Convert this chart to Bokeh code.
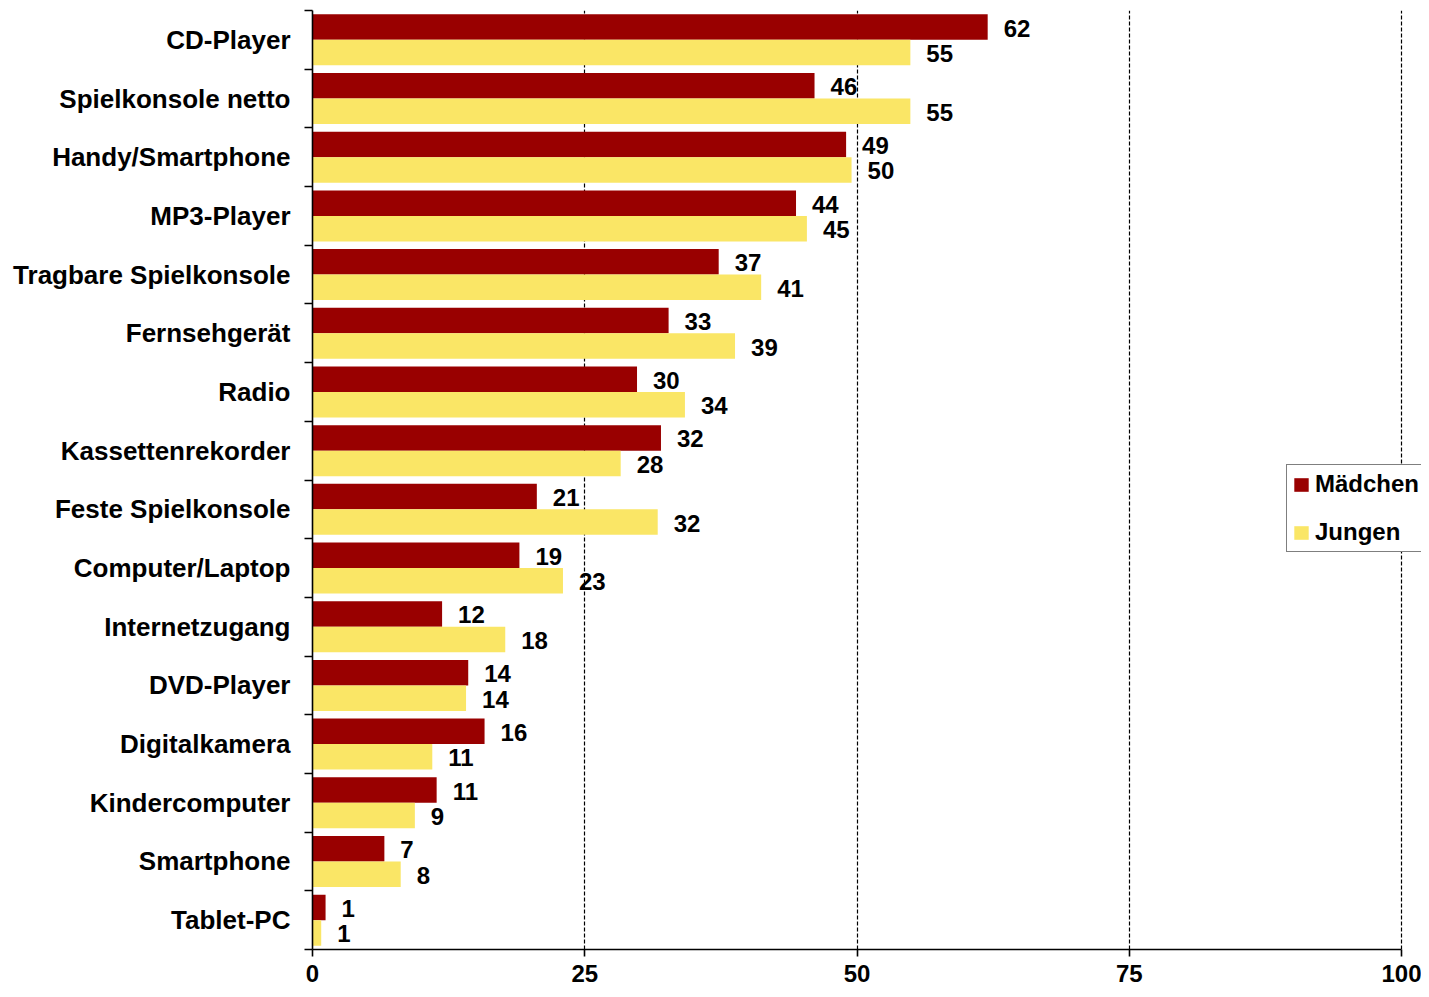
from bokeh.plotting import figure
from bokeh.models import (ColumnDataSource, Range1d, FixedTicker, Legend, LegendItem)
from bokeh.core.properties import value
from bokeh.embed import file_html
from bokeh.resources import INLINE

categories = ["CD-Player", "Spielkonsole netto", "Handy/Smartphone", "MP3-Player",
              "Tragbare Spielkonsole", "Fernsehgerät", "Radio", "Kassettenrekorder",
              "Feste Spielkonsole", "Computer/Laptop", "Internetzugang", "DVD-Player",
              "Digitalkamera", "Kindercomputer", "Smartphone", "Tablet-PC"]
maedchen = [62.0, 46.1, 49.0, 44.4, 37.3, 32.7, 29.8, 32.0, 20.6, 19.0, 11.9, 14.3, 15.8, 11.4, 6.6, 1.2]
jungen = [54.9, 54.9, 49.5, 45.4, 41.2, 38.8, 34.2, 28.3, 31.7, 23.0, 17.7, 14.1, 11.0, 9.4, 8.1, 0.8]
x_ticks = [0, 25, 50, 75, 100]
series_names = ["Mädchen", "Jungen"]

RED = "#990000"
YELLOW = "#FAE666"
FONT = "Liberation Sans"

W, H = 1421, 989
LEFT, TOP, BOTTOM = 312, 10, 40
PX_AT_100 = 1401  # pixel of value 100
x_end = 100.0 * (W - LEFT) / (PX_AT_100 - LEFT)

n = len(categories)
centers = [n - i - 0.5 for i in range(n)]
bh = 0.435
off = bh / 2

src_m = ColumnDataSource(dict(y=[c + off for c in centers], v=maedchen,
                              lab=[str(int(v + 0.5)) for v in maedchen]))
src_j = ColumnDataSource(dict(y=[c - off for c in centers], v=jungen,
                              lab=[str(int(v + 0.5)) for v in jungen]))

p = figure(width=W, height=H, output_backend="svg", toolbar_location=None,
           x_range=Range1d(0, x_end), y_range=Range1d(0, n),
           min_border_left=LEFT, min_border_right=0, min_border_top=TOP,
           min_border_bottom=BOTTOM)
p.outline_line_color = None
p.background_fill_color = "white"
p.border_fill_color = "white"

r_m = p.hbar(y="y", left=0, right="v", height=bh, source=src_m, fill_color=RED, line_color=None)
r_j = p.hbar(y="y", left=0, right="v", height=bh, source=src_j, fill_color=YELLOW, line_color=None)

for src in (src_m, src_j):
    p.text(x="v", y="y", text="lab", source=src, x_offset=16, y_offset=1,
           text_align="left", text_baseline="middle",
           text_font=value(FONT), text_font_style="bold", text_font_size="24px",
           text_color="black")

# x axis
p.xaxis.ticker = FixedTicker(ticks=x_ticks)
p.xaxis.bounds = (0, 100)
p.xaxis.axis_line_color = "black"
p.xaxis.axis_line_width = 1.6
p.xaxis.major_tick_out = 7
p.xaxis.major_tick_in = 0
p.xaxis.major_tick_line_color = "black"
p.xaxis.major_tick_line_width = 1.6
p.xaxis.minor_tick_line_color = None
p.xaxis.major_label_text_font = FONT
p.xaxis.major_label_text_font_style = "bold"
p.xaxis.major_label_text_font_size = "24px"
p.xaxis.major_label_text_color = "black"
p.xaxis.major_label_standoff = 8

# y axis
p.yaxis.ticker = FixedTicker(ticks=centers, minor_ticks=list(range(0, n + 1)))
p.yaxis.major_label_overrides = {c: categories[i] for i, c in enumerate(centers)}
p.yaxis.axis_line_color = "black"
p.yaxis.axis_line_width = 1.6
p.yaxis.major_tick_line_color = None
p.yaxis.minor_tick_line_color = "black"
p.yaxis.minor_tick_line_width = 1.6
p.yaxis.minor_tick_out = 8
p.yaxis.minor_tick_in = 0
p.yaxis.major_label_text_font = FONT
p.yaxis.major_label_text_font_style = "bold"
p.yaxis.major_label_text_font_size = "26px"
p.yaxis.major_label_text_color = "black"
p.yaxis.major_label_standoff = 14

# grid
p.ygrid.grid_line_color = None
p.xgrid.grid_line_color = "black"
p.xgrid.grid_line_dash = "4 2"
p.xgrid.grid_line_width = 1.2

legend = Legend(items=[LegendItem(label=series_names[0], renderers=[r_m]),
                       LegendItem(label=series_names[1], renderers=[r_j])],
                location=(1286 - LEFT, 397), margin=0, padding=5, spacing=20,
                glyph_width=18, glyph_height=17, label_standoff=5,
                label_text_font=FONT, label_text_font_style="bold",
                label_text_font_size="24px", label_text_color="black",
                border_line_color="black", border_line_width=1.6,
                background_fill_color="white", background_fill_alpha=1.0)
p.add_layout(legend)

open("out.html", "w").write(file_html(p, INLINE))
